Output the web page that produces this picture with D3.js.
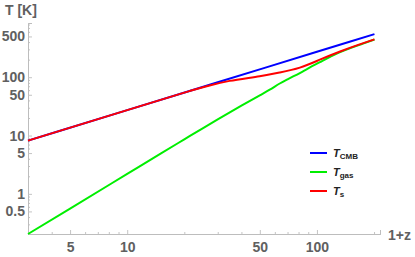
<!DOCTYPE html>
<html><head><meta charset="utf-8">
<script src="https://cdn.jsdelivr.net/npm/d3@7"></script>
<style>
html,body{margin:0;padding:0;background:#fff;}
svg{display:block;font-family:"Liberation Sans",Arial,sans-serif;}
</style></head>
<body>
<svg id="c" width="415" height="257"></svg>
<script>
// data (x = 1+z, T in K)
const cmbX = [3, 10, 30, 100, 201];
const cmbT = [8.18, 27.25, 81.75, 272.5, 547.7];
const gasX = [3, 5, 10, 15, 20, 25, 30, 40, 50, 56.4, 63.7, 70, 81.3, 90, 103.7, 117.4, 132.5, 150, 175, 201];
const gasT = [0.205, 0.56, 2.2, 4.9, 8.6, 13.3, 18.9, 32.5, 49, 61, 78, 92, 118, 142, 181, 223, 270, 315, 377, 443];
const sX = [3, 10, 20, 22, 27.2, 34.7, 49.9, 63.7, 81.3, 103.7, 132.5, 165, 201];
const sT = [8.18, 27.25, 54.4, 59.7, 72.2, 86.5, 104, 120.4, 146, 200, 276, 358, 445];
const xMajor = [5, 10, 50, 100];
const xMinor = [3, 4, 6, 7, 8, 9, 20, 30, 40, 60, 70, 80, 90, 200];
const yMajor = [0.5, 1, 5, 10, 50, 100, 500];
const yMinor = [0.3, 0.4, 0.6, 0.7, 0.8, 0.9, 2, 3, 4, 6, 7, 8, 9, 20, 30, 40, 60, 70, 80, 90, 200, 300, 400, 600, 700, 800];
const seriesNames = ["CMB", "gas", "s"];
const seriesColors = ["#0000ff", "#00ee00", "#ff0000"];

const svg = d3.select("#c");
const x = d3.scaleLog().domain([3, 215]).range([28, 380]);
const y = d3.scaleLog().domain([0.205, 850]).range([234, 23]);
const fmt = d => String(d);

function styleAxis(g){
  g.select(".domain").attr("stroke", "#bdbdbd").attr("stroke-width", 1);
  g.selectAll(".tick line").attr("stroke", "#c4c4c4");
  g.selectAll(".tick text").attr("fill", "#606060").attr("font-size", 14).attr("font-weight", "bold")
   .attr("font-family", '"Liberation Sans",Arial,sans-serif');
}
// x axis
svg.append("g").attr("transform", "translate(0,234)")
  .call(d3.axisBottom(x).tickValues(xMinor).tickSize(-2).tickFormat(""))
  .call(styleAxis);
svg.append("g").attr("transform", "translate(0,234)")
  .call(d3.axisBottom(x).tickValues(xMajor).tickSize(-4).tickFormat(fmt).tickPadding(8))
  .call(styleAxis);
// y axis
svg.append("g").attr("transform", "translate(28,0)")
  .call(d3.axisLeft(y).tickValues(yMinor).tickSize(-2).tickFormat(""))
  .call(styleAxis);
svg.append("g").attr("transform", "translate(28,0)")
  .call(d3.axisLeft(y).tickValues(yMajor).tickSize(-4).tickFormat(fmt).tickPadding(3))
  .call(styleAxis);

svg.append("text").attr("x", 5).attr("y", 15).attr("font-size", 14).attr("font-weight", "bold")
  .attr("fill", "#606060").text("T [K]");
svg.append("text").attr("x", 388).attr("y", 240).attr("font-size", 14).attr("font-weight", "bold")
  .attr("fill", "#606060").text("1+z");

const curves = [d3.curveMonotoneX, d3.curveMonotoneX, d3.curveNatural];
const series = [
  d3.zip(cmbX, cmbT),
  d3.zip(gasX, gasT),
  d3.zip(sX, sT)
];
series.forEach((s, i) => {
  const line = d3.line().x(d => x(d[0])).y(d => y(d[1])).curve(curves[i]);
  svg.append("path").attr("d", line(s)).attr("fill", "none")
    .attr("stroke", seriesColors[i]).attr("stroke-width", 2);
});

// legend
const lg = svg.append("g");
seriesNames.forEach((n, i) => {
  const yy = 153 + i * 19;
  lg.append("line").attr("x1", 310).attr("x2", 327).attr("y1", yy).attr("y2", yy)
    .attr("stroke", seriesColors[i]).attr("stroke-width", 2);
  const t = lg.append("text").attr("x", 333).attr("y", yy + 4).attr("fill", "#222")
    .attr("font-weight", "bold");
  t.append("tspan").attr("font-style", "italic").attr("font-size", 11).text("T");
  t.append("tspan").attr("font-size", 8).attr("dy", 2).text(n);
});
</script>
</body></html>
